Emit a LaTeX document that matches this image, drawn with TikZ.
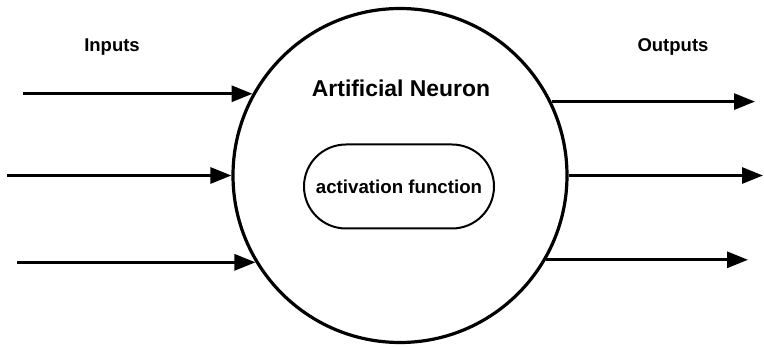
\documentclass[tikz,border=0pt]{standalone}
\usepackage{fontspec}
\setmainfont{Liberation Sans}
\usetikzlibrary{arrows.meta}
\begin{document}
\begin{tikzpicture}[x=1pt,y=-1pt,
  lbl/.style={font=\bfseries\fontsize{18.5}{22}\selectfont, inner sep=0pt, anchor=base},
  neuronstyle/.style={circle, draw, line width=3.2pt, minimum size=334pt, inner sep=0pt},
  actbox/.style={draw, line width=2pt, rectangle, rounded corners=42pt,
    minimum width=190pt, minimum height=84pt, inner sep=0pt,
    font=\bfseries\fontsize{18.7}{22}\selectfont},
  sig/.style={line width=3pt, -{Triangle[length=21pt,width=16pt]}}]
\useasboundingbox (0,0) rectangle (764,347);

% neuron body and its activation block
\node[neuronstyle] (neuron) at (400,175.5) {};
\node[actbox] (act) at (399,186.5) {activation function};
\node[font=\bfseries\fontsize{22.9}{27}\selectfont, inner sep=0pt, anchor=base]
  (title) at (401,97) {Artificial Neuron};

% side captions
\node[lbl] (inlbl) at (112,52) {Inputs};
\node[lbl] (outlbl) at (673,52) {Outputs};

% free ends of the signal lines
\coordinate (in1) at (neuron.151 -| 23,0);
\coordinate (in2) at (neuron.180 -| 7,0);
\coordinate (in3) at (neuron.211 -| 17,0);
\coordinate (out1) at (neuron.26 -| 755,0);
\coordinate (out2) at (neuron.0 -| 763,0);
\coordinate (out3) at (neuron.330 -| 748,0);

% incoming signals
\draw[sig] (in1) -- (neuron.151);
\draw[sig] (in2) -- (neuron.180);
\draw[sig] (in3) -- (neuron.211);

% outgoing signals
\draw[sig] (neuron.26) -- (out1);
\draw[sig] (neuron.0) -- (out2);
\draw[sig] (neuron.330) -- (out3);
\end{tikzpicture}
\end{document}
